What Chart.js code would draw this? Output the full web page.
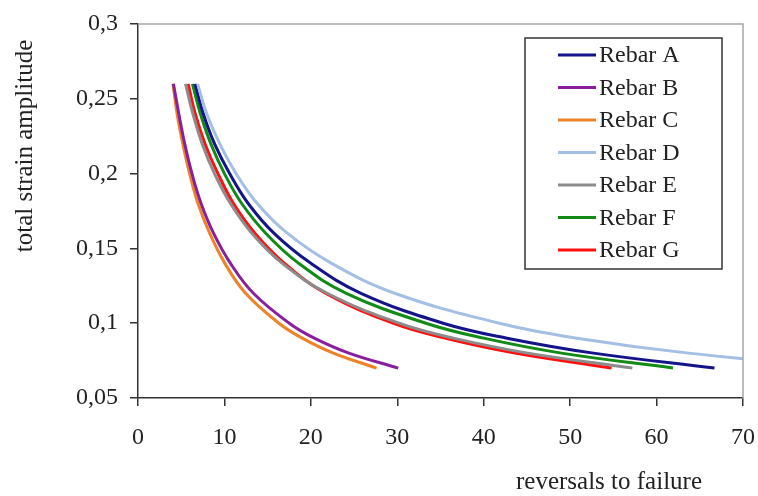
<!DOCTYPE html>
<html>
<head>
<meta charset="utf-8">
<script src="https://cdn.jsdelivr.net/npm/chart.js@4"></script>
<style>
  html, body { margin: 0; padding: 0; background: #fff; }
  #wrap { width: 758px; height: 496px; }
</style>
</head>
<body>
<div id="wrap"><canvas id="chart" width="758" height="496"></canvas></div>
<script>
// strain levels shared by all curves
const strainLevels = [0.26, 0.24, 0.22, 0.20, 0.18, 0.16, 0.14, 0.12, 0.10, 0.09, 0.08, 0.07];

// reversals to failure for each strain level
const rebarA = [6.6, 7.55, 8.85, 10.6, 12.75, 15.75, 20.0, 25.8, 35.3, 42.7, 52.7, 66.7];
const rebarB = [4.1, 4.72, 5.4, 6.24, 7.3, 8.75, 10.7, 13.35, 17.5, 20.4, 24.4, 30.1];
const rebarC = [4.05, 4.52, 5.18, 5.97, 6.94, 8.3, 10.05, 12.45, 16.3, 19.0, 22.6, 27.6];
const rebarD = [6.9, 7.95, 9.45, 11.35, 13.8, 17.3, 22.4, 29.7, 41.8, 50.8, 63.7, 82.0];
const rebarE = [5.5, 6.35, 7.42, 8.85, 10.7, 13.2, 16.7, 21.9, 30.2, 36.5, 45.1, 57.2];
const rebarF = [6.3, 7.22, 8.42, 10.0, 12.0, 14.8, 18.6, 24.1, 33.3, 40.0, 49.0, 61.9];
const rebarG = [5.8, 6.62, 7.75, 9.25, 11.05, 13.55, 16.95, 21.7, 29.5, 35.5, 43.6, 54.8];

const seriesNames = ["Rebar A", "Rebar B", "Rebar C", "Rebar D", "Rebar E", "Rebar F", "Rebar G"];
const seriesValues = [rebarA, rebarB, rebarC, rebarD, rebarE, rebarF, rebarG];
const seriesColors = ["#14148a", "#8a1f9e", "#ee8226", "#a3bfe3", "#8c8c8c", "#118a16", "#ff1010"];

const xTicks = [0, 10, 20, 30, 40, 50, 60, 70];
const yTicks = [0.05, 0.1, 0.15, 0.2, 0.25, 0.3];

const FONT = "'Liberation Serif', 'DejaVu Serif', serif";
const INK = "#222";

// draw order: the light curves sit underneath
const drawOrder = [3, 0, 5, 4, 6, 1, 2];

const datasets = seriesNames.map((name, i) => ({
    label: name,
    data: strainLevels.map((s, k) => ({ x: seriesValues[i][k], y: s })),
    borderColor: seriesColors[i],
    backgroundColor: seriesColors[i],
    borderWidth: 3,
    pointRadius: 0,
    showLine: true,
    tension: 0.4,
    order: drawOrder.indexOf(i)
}));

// gray top/right frame, axis titles and boxed legend
const decorPlugin = {
    id: "decor",
    afterDraw(chart) {
        const { ctx, chartArea: a } = chart;
        ctx.save();
        ctx.strokeStyle = "#a6a6a6";
        ctx.lineWidth = 1.5;
        ctx.beginPath();
        ctx.moveTo(a.left, a.top);
        ctx.lineTo(a.right, a.top);
        ctx.lineTo(a.right, a.bottom);
        ctx.stroke();

        ctx.fillStyle = INK;
        ctx.font = "25px " + FONT;
        ctx.textAlign = "center";
        ctx.textBaseline = "middle";
        ctx.fillText("reversals to failure", 609, 482);
        ctx.save();
        ctx.translate(25, 146);
        ctx.rotate(-Math.PI / 2);
        ctx.fillText("total strain amplitude", 0, 0);
        ctx.restore();

        // legend box
        ctx.fillStyle = "#fff";
        ctx.fillRect(525, 38, 197, 231);
        ctx.strokeStyle = "#333";
        ctx.lineWidth = 1.5;
        ctx.strokeRect(525, 38, 197, 231);
        ctx.textAlign = "left";
        ctx.font = "24px " + FONT;
        seriesNames.forEach((name, i) => {
            const y = 55 + i * 32.5;
            ctx.strokeStyle = seriesColors[i];
            ctx.lineWidth = 3;
            ctx.beginPath();
            ctx.moveTo(558, y);
            ctx.lineTo(596, y);
            ctx.stroke();
            ctx.fillStyle = INK;
            ctx.fillText(name, 599, y + 1);
        });
        ctx.restore();
    }
};

new Chart(document.getElementById("chart"), {
    type: "scatter",
    data: { datasets },
    options: {
        responsive: false,
        animation: false,
        devicePixelRatio: 1,
        layout: { padding: { top: 24, right: 15, left: 0, bottom: 0 } },
        plugins: { legend: { display: false }, tooltip: { enabled: false } },
        scales: {
            x: {
                type: "linear",
                min: 0,
                max: 70,
                afterFit: (s) => { s.height = 98; s.paddingLeft = 0; s.paddingRight = 0; },
                afterBuildTicks: (s) => { s.ticks = xTicks.map(v => ({ value: v })); },
                ticks: { font: { family: FONT, size: 24 }, color: INK, padding: 17 },
                grid: { drawOnChartArea: false, tickLength: 8, color: "#333", lineWidth: 1.5 },
                border: { color: "#333", width: 1.5 }
            },
            y: {
                type: "linear",
                min: 0.05,
                max: 0.3,
                afterFit: (s) => { s.width = 138; s.paddingTop = 0; s.paddingBottom = 0; },
                afterBuildTicks: (s) => { s.ticks = yTicks.map(v => ({ value: v })); },
                ticks: {
                    font: { family: FONT, size: 24 },
                    color: INK,
                    padding: 12,
                    callback: (v) => String(Number(v.toFixed(2))).replace(".", ",")
                },
                grid: { drawOnChartArea: false, tickLength: 8, color: "#333", lineWidth: 1.5 },
                border: { color: "#333", width: 1.5 }
            }
        }
    },
    plugins: [decorPlugin]
});
</script>
</body>
</html>
